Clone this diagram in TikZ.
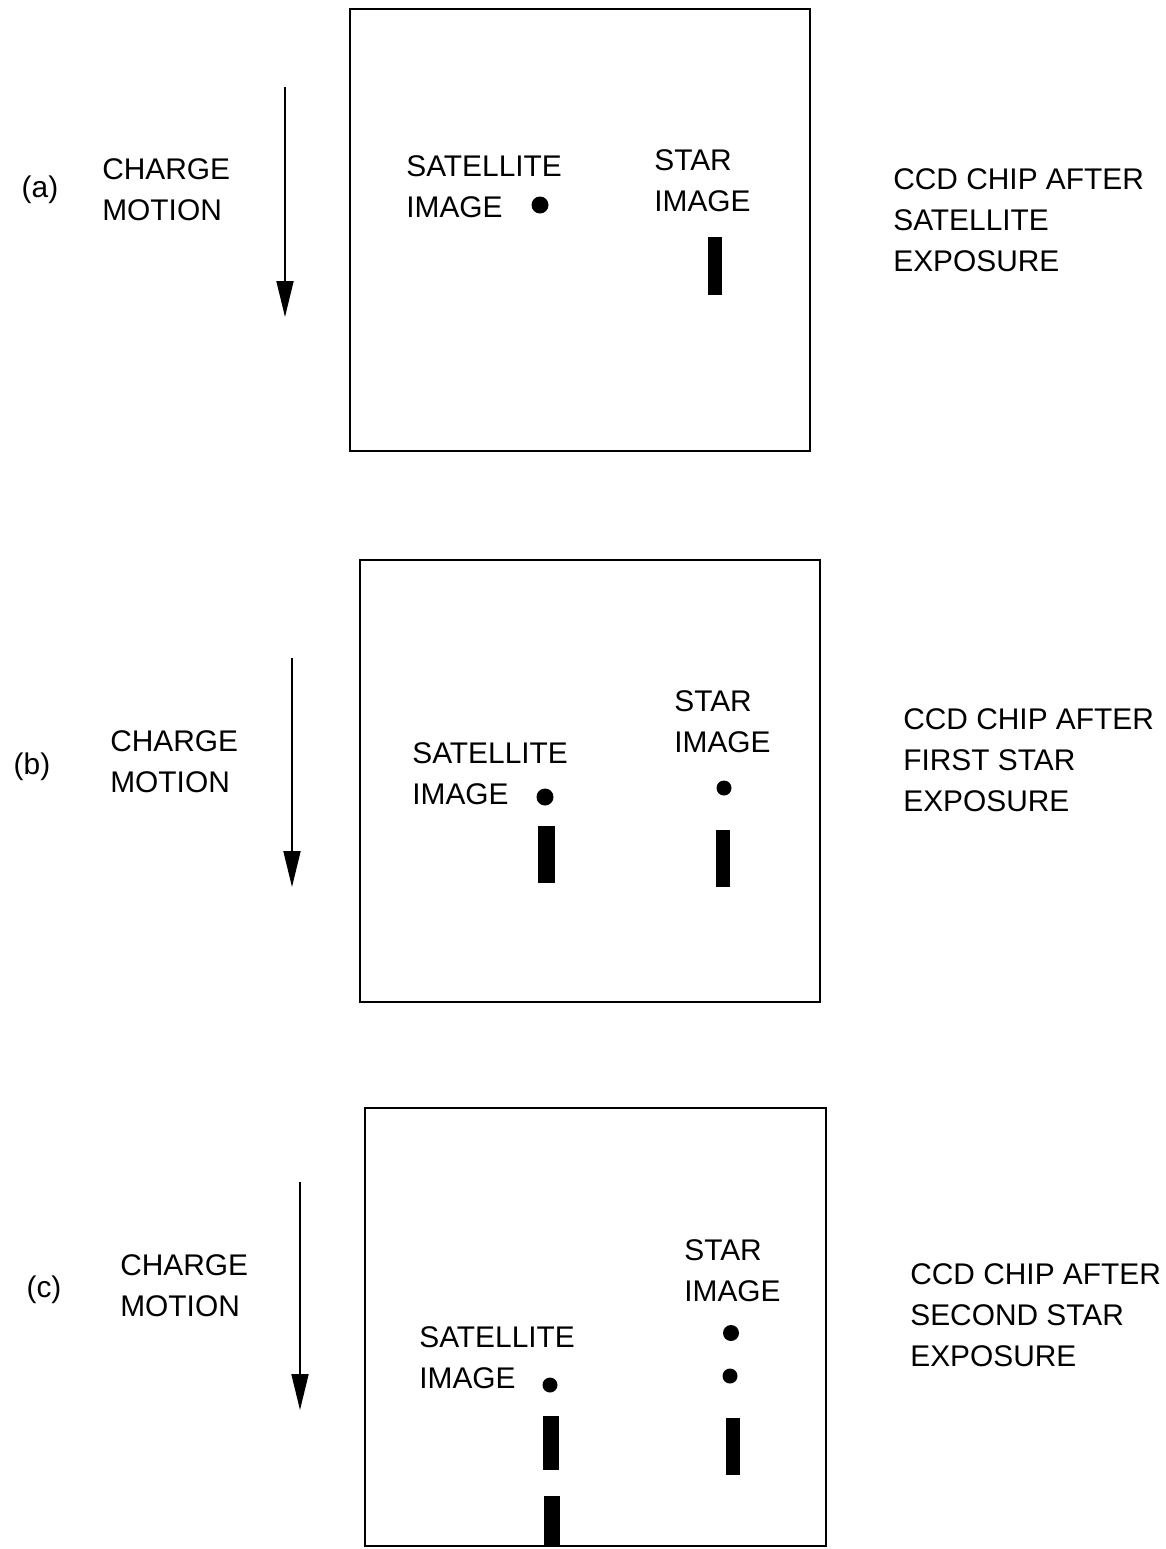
\documentclass[tikz,border=0pt]{standalone}
\usepackage{fontspec}
\setmainfont{Liberation Sans}
\usetikzlibrary{arrows.meta,positioning}

\begin{document}
\begin{tikzpicture}[x=0.02cm, y=-0.02cm,
    chip/.style={rectangle, draw, line width=1.1pt, minimum width=9.2cm, minimum height=8.85cm, inner sep=0pt},
    lbl/.style={align=left, inner sep=0pt, anchor=west, font=\fontsize{17}{23.2}\selectfont},
    tag/.style={inner sep=0pt, font=\fontsize{17}{23.2}\selectfont},
    motion/.style={line width=1.1pt, -{Triangle[length=0.72cm, width=0.34cm]}},
    spot/.style={circle, fill, inner sep=0pt, minimum size=0.34cm},
    trail/.style={fill}
  ]
    \useasboundingbox (0,0) rectangle (1166,1549);

    % (a) after satellite exposure
    \node[chip] (chipa) at (580,230) {};
    \node[tag] (taga) at (40,190) {(a)};
    \node[lbl] (motiona) at (102,190) {CHARGE\\MOTION};
    \coordinate (topa) at (285,87);
    \coordinate (bota) at (285,317);
    \draw[motion] (topa) -- (bota);
    \node[lbl] (sata) at (406,187) {SATELLITE\\IMAGE};
    \node[spot] (sdota) at (540,205) {};
    \node[lbl] (stara) at (654,181) {STAR\\IMAGE};
    \fill[trail] (708,237) rectangle (722,295);
    \node[lbl] (capa) at (893,220) {CCD CHIP AFTER\\SATELLITE\\EXPOSURE};

    % (b) after first star exposure
    \node[chip, minimum width=9.2cm, minimum height=8.84cm] (chipb) at (590,781) {};
    \node[tag] (tagb) at (32,767) {(b)};
    \node[lbl] (motionb) at (110,762) {CHARGE\\MOTION};
    \coordinate (topb) at (292,658);
    \coordinate (botb) at (292,887);
    \draw[motion] (topb) -- (botb);
    \node[lbl] (satb) at (412,774) {SATELLITE\\IMAGE};
    \node[spot] (sdotb) at (545,797) {};
    \fill[trail] (538,826) rectangle (555,883);
    \node[lbl] (starb) at (674,722) {STAR\\IMAGE};
    \node[spot, minimum size=0.3cm] (tdotb) at (724,788) {};
    \fill[trail] (716,830) rectangle (730,887);
    \node[lbl] (capb) at (903,760) {CCD CHIP AFTER\\FIRST STAR\\EXPOSURE};

    % (c) after second star exposure
    \node[chip, minimum width=9.22cm, minimum height=8.76cm] (chipc) at (595.5,1327) {};
    \node[tag] (tagc) at (44,1290) {(c)};
    \node[lbl] (motionc) at (120,1286) {CHARGE\\MOTION};
    \coordinate (topc) at (300,1182);
    \coordinate (botc) at (300,1410);
    \draw[motion] (topc) -- (botc);
    \node[lbl] (satc) at (419,1358) {SATELLITE\\IMAGE};
    \node[spot, minimum size=0.3cm] (sdotc) at (550,1385) {};
    \fill[trail] (543,1416) rectangle (559,1470);
    \fill[trail] (544,1496) rectangle (560,1546);
    \node[lbl] (starc) at (684,1271) {STAR\\IMAGE};
    \node[spot, minimum size=0.32cm] (tdotc) at (731,1333) {};
    \node[spot, minimum size=0.3cm] (tdotd) at (730,1376) {};
    \fill[trail] (726,1418) rectangle (740,1475);
    \node[lbl] (capc) at (910,1315) {CCD CHIP AFTER\\SECOND STAR\\EXPOSURE};
\end{tikzpicture}
\end{document}
